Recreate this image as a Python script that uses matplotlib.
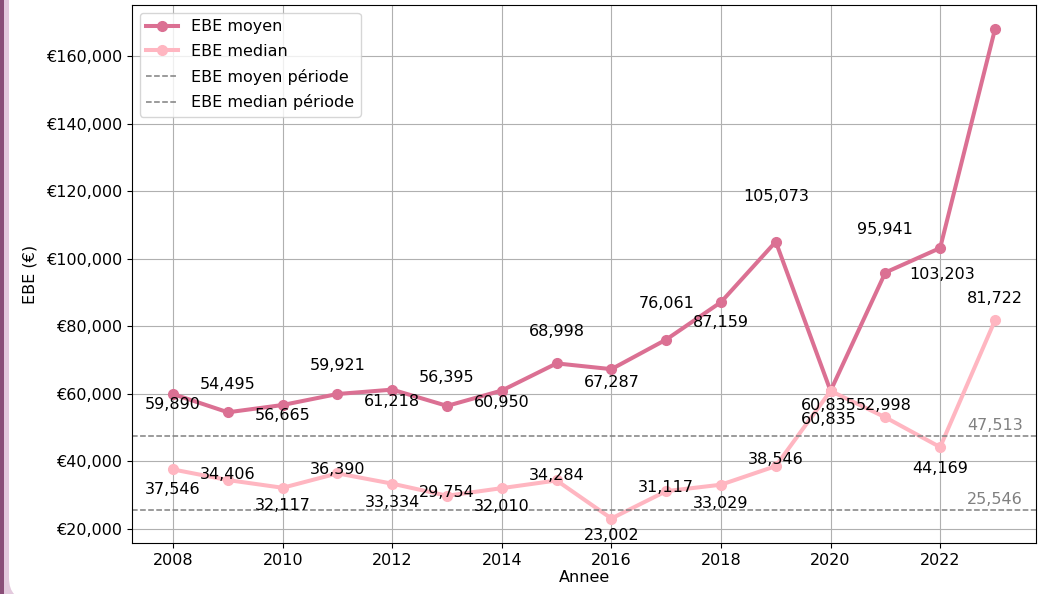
import matplotlib
matplotlib.use("Agg")
import matplotlib.pyplot as plt
from matplotlib.patches import Rectangle, FancyBboxPatch
from matplotlib.ticker import FuncFormatter

# ===== Données =====
annees = list(range(2008, 2024))
ebe_moyen = [59890, 54495, 56665, 59921, 61218, 56395, 60950, 68998,
             67287, 76061, 87159, 105073, 60835, 95941, 103203, 168012]
ebe_median = [37546, 34406, 32117, 36390, 33334, 29754, 32010, 34284,
              23002, 31117, 33029, 38546, 60835, 52998, 44169, 81722]
moyen_periode = 47513
median_periode = 25546

# décalages des étiquettes (pixels) - placement façon adjustText
# (l'étiquette 2023 du moyen sort du cadre dans l'original -> pas affichée)
off_moyen = [(0, -10), (0, 28), (0, -11), (0, 29), (0, -12), (0, 28), (0, -12), (0, 32),
             (0, -13), (0, 36), (0, -20), (0, 45), (-2, -15), (0, 43), (2, -26)]
off_median = [(0, -20), (0, 6), (0, -18), (0, 4), (0, -19), (0, 3), (0, -18), (0, 5),
              (0, -17), (0, 4), (0, -19), (0, 7), (-2, -29), (-2, 12), (0, -21), (0, 22)]

c_moyen = '#DB7093'
c_median = '#FFB6C1'

plt.rcParams['font.size'] = 11.5

fig = plt.figure(figsize=(10.47, 5.94), dpi=100)

# ---- cadre violet à gauche ----
fig.patches.append(Rectangle((0, 0), 0.012, 1, transform=fig.transFigure,
                             facecolor='#E3C9DD', edgecolor='none', zorder=-10))
fig.patches.append(Rectangle((0, 0), 0.0042, 1, transform=fig.transFigure,
                             facecolor='#8A4E78', edgecolor='none', zorder=-9))
fig.patches.append(FancyBboxPatch((0.09, -0.06), 12, 8, transform=fig.dpi_scale_trans,
                                  boxstyle="round,pad=0,rounding_size=0.22",
                                  facecolor='white', edgecolor='none', zorder=-8))
fig.patch.set_facecolor('#E3C9DD')

ax = fig.add_axes([0.1261, 0.0859, 0.9895 - 0.1261, 0.9916 - 0.0859])

ax.plot(annees, ebe_moyen, marker='o', color=c_moyen, lw=2.9, ms=7, label='EBE moyen')
ax.plot(annees, ebe_median, marker='o', color=c_median, lw=2.9, ms=7, label='EBE median')
ax.axhline(moyen_periode, color='gray', ls='--', lw=1.1, label='EBE moyen période')
ax.axhline(median_periode, color='gray', ls='--', lw=1.1, label='EBE median période')

for x, y, off in zip(annees, ebe_moyen, off_moyen):
    ax.annotate(f'{y:,}', (x, y), xytext=off, textcoords='offset pixels',
                ha='center', va='center')
for x, y, off in zip(annees, ebe_median, off_median):
    ax.annotate(f'{y:,}', (x, y), xytext=off, textcoords='offset pixels',
                ha='center', va='center')

ax.annotate(f'{moyen_periode:,}', (annees[-1], moyen_periode), xytext=(0, 10),
            textcoords='offset pixels', ha='center', va='center', color='gray')
ax.annotate(f'{median_periode:,}', (annees[-1], median_periode), xytext=(0, 10),
            textcoords='offset pixels', ha='center', va='center', color='gray')

ax.set_xticks(annees[:-1:2])
ax.yaxis.set_major_formatter(FuncFormatter(lambda v, p: f'€{v:,.0f}'))
ax.set_xlabel('Annee', labelpad=2)
ax.set_ylabel('EBE (€)', labelpad=6)
ax.grid(True)
ax.legend(loc='upper left', labelspacing=0.6)

plt.savefig('out.png', dpi=100, facecolor=fig.get_facecolor())
